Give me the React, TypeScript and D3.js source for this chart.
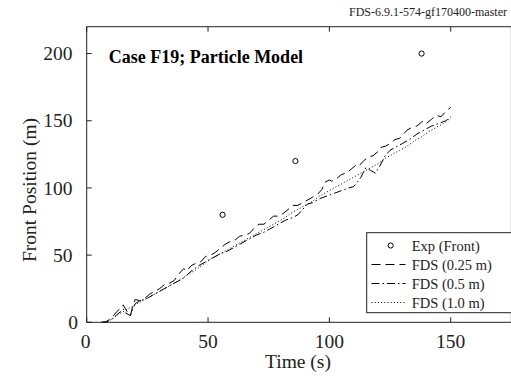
import React from "react";
import * as d3 from "d3";

const expTime = [56, 86, 138];
const expFront = [80, 120, 200];

const t025 = [6,8,10,12,14,15,16,17,18,19,20,22,24,26,28,30,32,34,36,38,40,41,43,45,47,49,51,53,55,57,59,61,63,65,67,69,71,73,75,77,79,81,83,85,87,89,91,93,95,97,98,100,101,103,105,107,109,111,112,114,116,118,120,121,123,125,127,129,131,132,134,136,138,139,140,142,144,146,148,150];
const v025 = [0,0.5,3,7,11,13,10,7,5,12,17,16,18,21,23,25,28,29,31,36,40,38,42,44,45,49,50,52,55,58,60,61,64,65,66,70,73,73,76,79,79,81,84,87,87,89,91,93,95,99,104,106,105,107,110,111,114,117,116,120,123,124,127,130,131,133,136,137,141,143,145,146,149,150,148,151,154,153,157,160];

const t05 = [6,8,10,12,14,15,16,18,19,20,22,25,28,31,34,37,40,43,46,49,52,55,58,61,64,67,70,73,76,79,82,85,87,89,91,93,96,99,102,105,108,110,111,113,115,117,119,121,123,125,127,130,133,136,139,142,145,148,150];
const v05 = [0,0,2,5,8,10,7,5,10,14,16,18,21,24,27,30,33,38,42,45,48,51,53,56,59,62,65,67,70,73,76,78,80,84,88,89,92,94,96,98,100,101,103,108,115,113,111,117,124,128,130,133,136,140,143,146,148,150,153];

const t10 = [7,9,11,13,15,17,19,21,24,27,30,33,36,39,42,45,48,51,54,57,60,63,66,69,72,75,78,81,84,87,90,93,96,99,102,105,108,111,114,117,120,123,126,129,132,135,138,141,144,147,150];
const v10 = [0,1,3,6,8,10,12,14,17,20,23,26,29,32,36,39,43,47,50,53,56,59,62,65,68,71,74,77,81,84,87,90,94,97,100,103,106,109,112,115,118,122,125,128,131,135,138,142,145,148,152];

const xTicks = [0, 50, 100, 150];
const yTicks = [0, 50, 100, 150, 200];

const legendLabels = ["Exp (Front)", "FDS (0.25 m)", "FDS (0.5 m)", "FDS (1.0 m)"];
const dashes = ["", "9,5", "8,3,1.5,3", "1,2.2"];

export default function App() {
  const W = 511, H = 377;
  const left = 86.7, top = 26.7, bottom = 322.3;
  const x = d3.scaleLinear().domain([0, 175]).range([left, left + 175 * 2.4267]);
  const y = d3.scaleLinear().domain([0, 220]).range([bottom, top]);
  const right = x(175);
  const font = "'Liberation Serif', 'Times New Roman', serif";
  const line = d3.line<[number, number]>().x(d => x(d[0])).y(d => y(d[1]));
  const series = [
    { t: t025, v: v025, dash: dashes[1] },
    { t: t05, v: v05, dash: dashes[2] },
    { t: t10, v: v10, dash: dashes[3] },
  ];
  const lx = 366.7, ly = 232.7;
  const rows = [245.5, 264.5, 283.5, 302.5];
  return (
    <svg width={W} height={H} style={{ position: "absolute", left: 0, top: 0, background: "#fff" }} fontFamily={font}>
      <rect x={0} y={0} width={W} height={H} fill="#fff" />
      <text x={507} y={15.5} fontSize={12} textAnchor="end" fill="#222">FDS-6.9.1-574-gf170400-master</text>
      {series.map((s, i) => (
        <path key={i} d={line(s.t.map((t, j) => [t, s.v[j]] as [number, number])) || ""} fill="none" stroke="#000" strokeWidth={1} strokeDasharray={s.dash} />
      ))}
      {expTime.map((t, i) => (
        <circle key={i} cx={x(t)} cy={y(expFront[i])} r={2.6} fill="none" stroke="#000" strokeWidth={1} />
      ))}
      <rect x={left} y={top} width={right - left} height={bottom - top} fill="none" stroke="#222" strokeWidth={1} />
      {xTicks.map(t => (
        <g key={t}>
          <line x1={x(t)} x2={x(t)} y1={bottom} y2={bottom - 5} stroke="#222" />
          <line x1={x(t)} x2={x(t)} y1={top} y2={top + 5} stroke="#222" />
          <text x={x(t) - (t === 0 ? 1 : 0)} y={348} fontSize={19.5} textAnchor="middle" fill="#222">{t}</text>
        </g>
      ))}
      {yTicks.map(t => (
        <g key={t}>
          <line x1={left} x2={left + 5} y1={y(t)} y2={y(t)} stroke="#222" />
          <text x={t === 0 ? 78 : 72.5} y={y(t) + 6.6} fontSize={19.5} textAnchor="end" fill="#222">{t}</text>
        </g>
      ))}
      <text x={298} y={368} fontSize={19.5} textAnchor="middle" fill="#222">Time (s)</text>
      <text transform={`translate(36,190) rotate(-90)`} fontSize={19.5} textAnchor="middle" fill="#222">Front Position (m)</text>
      <text x={108.7} y={62.7} fontSize={18} fontWeight="bold" fill="#000">Case F19; Particle Model</text>
      <rect x={lx} y={ly} width={160} height={80} fill="#fff" stroke="#222" strokeWidth={1} />
      {legendLabels.map((lab, i) => (
        <g key={lab}>
          {i === 0 ? (
            <circle cx={390.7} cy={rows[i]} r={2.6} fill="none" stroke="#000" strokeWidth={1} />
          ) : (
            <line x1={371.5} x2={405.5} y1={rows[i]} y2={rows[i]} stroke="#000" strokeWidth={1} strokeDasharray={dashes[i]} />
          )}
          <text x={411.7} y={rows[i] + 5} fontSize={14.5} fill="#222">{lab}</text>
        </g>
      ))}
    </svg>
  );
}
